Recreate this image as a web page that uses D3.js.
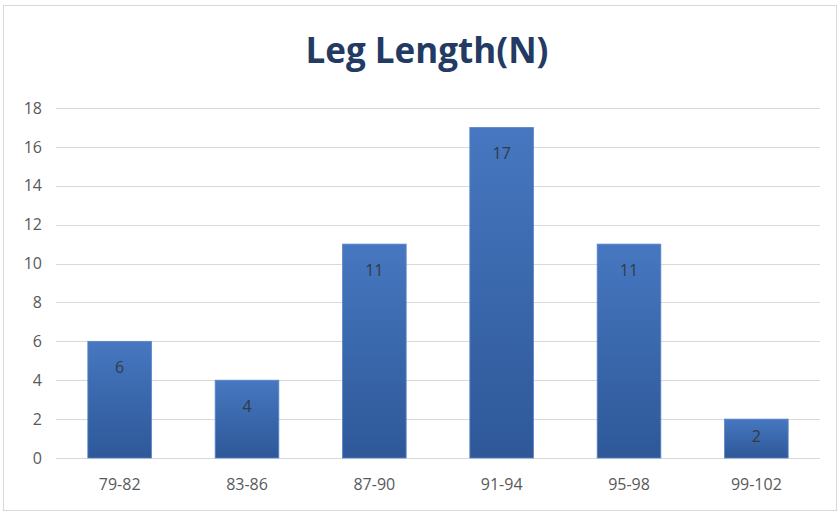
<!DOCTYPE html>
<html><head><meta charset="utf-8">
<script src="https://cdn.jsdelivr.net/npm/d3@7"></script>
<style>body{margin:0;background:#fff}</style>
</head><body>
<script>
const categories = ["79-82","83-86","87-90","91-94","95-98","99-102"];
const values = [6,4,11,17,11,2];
const yTicks = [0,2,4,6,8,10,12,14,16,18];
const title = "Leg Length(N)";

const W = 840, H = 513;
const svg = d3.select("body").append("svg").attr("width", W).attr("height", H);
svg.append("rect").attr("x",3.5).attr("y",5.5).attr("width",833).attr("height",505)
  .attr("fill","#fff").attr("stroke","#d9d9d9");

const defs = svg.append("defs");
const g = defs.append("linearGradient").attr("id","bg").attr("x1",0).attr("y1",0).attr("x2",0).attr("y2",1);
g.append("stop").attr("offset","0%").attr("stop-color","#4677c0");
g.append("stop").attr("offset","100%").attr("stop-color","#2e5898");

const m = {left:56, right:820, top:108, bottom:458};
const x = d3.scaleBand().domain(categories).range([m.left, m.right]).paddingInner(0.5).paddingOuter(0.25);
const y = d3.scaleLinear().domain([0,18]).range([m.bottom, m.top]);

svg.append("text").attr("x", 427).attr("y", 63).attr("text-anchor","middle")
  .attr("font-family","Open Sans, sans-serif").attr("font-weight","bold").attr("font-size",35)
  .attr("fill","#233a63").text(title);

const grid = svg.append("g");
grid.selectAll("line").data(yTicks).join("line")
  .attr("x1", m.left).attr("x2", m.right).attr("y1", d=>Math.round(y(d))+0.5).attr("y2", d=>Math.round(y(d))+0.5)
  .attr("stroke","#d9d9d9").attr("stroke-width",1.2);

const yAxis = svg.append("g").attr("transform",`translate(${m.left},0)`)
  .call(d3.axisLeft(y).tickValues(yTicks).tickSize(0).tickPadding(14));
yAxis.select(".domain").remove();
yAxis.selectAll("text").attr("font-family","Open Sans, sans-serif").attr("font-size",16).attr("fill","#595959");

const xAxis = svg.append("g").attr("transform",`translate(0,${m.bottom})`)
  .call(d3.axisBottom(x).tickSize(0).tickPadding(21));
xAxis.select(".domain").remove();
xAxis.selectAll("text").attr("font-family","Open Sans, sans-serif").attr("font-size",16).attr("fill","#595959");

svg.selectAll("rect.bar").data(values).join("rect").attr("class","bar")
  .attr("x",(d,i)=>x(categories[i])).attr("width",x.bandwidth())
  .attr("y",d=>y(d)).attr("height",d=>y(0)-y(d))
  .attr("fill","url(#bg)").attr("stroke","#5b86c8").attr("stroke-width",0.8);

svg.selectAll("text.lbl").data(values).join("text").attr("class","lbl")
  .attr("x",(d,i)=>x(categories[i])+x.bandwidth()/2)
  .attr("y",d=>Math.min(y(d)+32, (y(d)+y(0))/2+3))
  .attr("text-anchor","middle").attr("font-family","Open Sans, sans-serif").attr("font-size",16)
  .attr("fill","#333a44").text(d=>d);
</script>
</body></html>
